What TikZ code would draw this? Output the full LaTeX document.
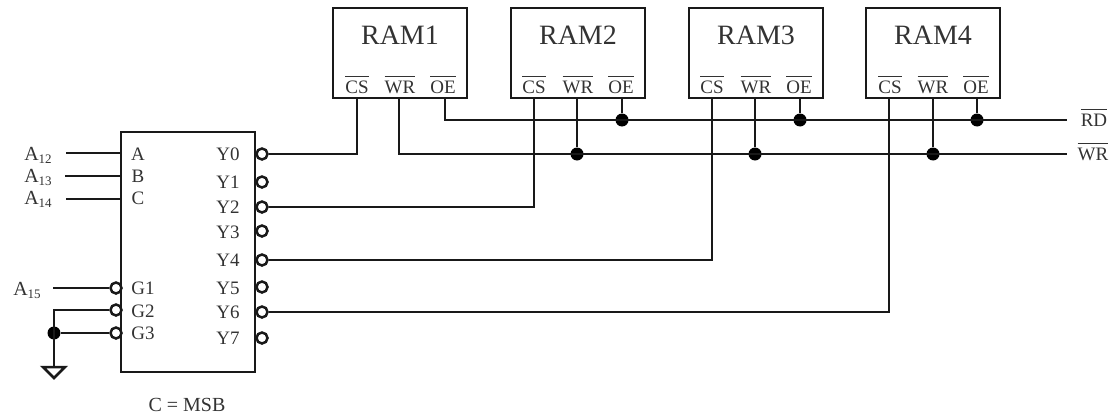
\documentclass[tikz,border=0pt]{standalone}
\usepackage{fontspec}
\setmainfont{Liberation Serif}
\newcommand{\addr}[1]{A\raisebox{-3pt}{\fontsize{13}{13}\selectfont #1}}
\newcommand{\barred}[1]{$\overline{\mbox{\rule{0pt}{15.5pt}#1}}$}
\tikzset{
	wire/.style={line width=2.5pt, color=black!90},
	box/.style={draw, line width=2.5pt, color=black!90, inner sep=0pt},
	bubble/.style={circle, draw, line width=2.5pt, color=black!90, fill=white, inner sep=0pt, minimum size=11pt},
	dot/.style={circle, fill=black, inner sep=0pt, minimum size=13pt},
	lbl/.style={text=black!80, inner sep=0pt, font=\fontsize{19}{19}\selectfont},
	addrlbl/.style={lbl, font=\fontsize{20}{20}\selectfont},
	pinlbl/.style={lbl, anchor=base},
	ramlbl/.style={lbl, font=\fontsize{28}{28}\selectfont}
}
\begin{document}
\begin{tikzpicture}[x=1pt, y=-1pt]
	\useasboundingbox (0,0) rectangle (1112,415);

	% decoder
	\node[box, minimum width=134pt, minimum height=240pt] (chip) at (188,252) {};
	\node[lbl] (la) at (138,154) {A};
	\node[lbl] (lb) at (138,176) {B};
	\node[lbl] (lc) at (138,198) {C};
	\node[lbl] (lg1) at (143,288) {G1};
	\node[lbl] (lg2) at (143,311) {G2};
	\node[lbl] (lg3) at (143,333) {G3};
	\node[lbl] (ly0) at (228,154) {Y0};
	\node[lbl] (ly1) at (228,182) {Y1};
	\node[lbl] (ly2) at (228,207) {Y2};
	\node[lbl] (ly3) at (228,232) {Y3};
	\node[lbl] (ly4) at (228,260) {Y4};
	\node[lbl] (ly5) at (228,288) {Y5};
	\node[lbl] (ly6) at (228,312) {Y6};
	\node[lbl] (ly7) at (228,338) {Y7};
	\node[addrlbl] (msb) at (187,405) {C = MSB};

	% decoder outputs
	\node[bubble] (y0) at (262,154) {};
	\node[bubble] (y1) at (262,182) {};
	\node[bubble] (y2) at (262,207) {};
	\node[bubble] (y3) at (262,231) {};
	\node[bubble] (y4) at (262,260) {};
	\node[bubble] (y5) at (262,287) {};
	\node[bubble] (y6) at (262,312) {};
	\node[bubble] (y7) at (262,338) {};

	% enable inputs
	\node[bubble] (g1) at (116,288) {};
	\node[bubble] (g2) at (116,310) {};
	\node[bubble] (g3) at (116,333) {};

	% address lines
	\node[addrlbl] (a12) at (38,155) {\addr{12}};
	\node[addrlbl] (a13) at (38,177) {\addr{13}};
	\node[addrlbl] (a14) at (38,199) {\addr{14}};
	\node[addrlbl] (a15) at (27,290) {\addr{15}};
	\coordinate (a12s) at (66,153);
	\coordinate (a13s) at (65,176);
	\coordinate (a14s) at (66,199);
	\coordinate (a15s) at (53,288);
	\coordinate (pa) at (chip.west |- a12s);
	\coordinate (pb) at (chip.west |- a13s);
	\coordinate (pc) at (chip.west |- a14s);
	\draw[wire] (a12s) -- (pa);
	\draw[wire] (a13s) -- (pb);
	\draw[wire] (a14s) -- (pc);
	\draw[wire] (a15s) -- (g1);

	% ground
	\node[dot] (gj) at (54,333) {};
	\coordinate (gt) at (54,310);
	\coordinate (gnd) at (54,367);
	\draw[wire] (g2) -- (gt) -- (gnd);
	\draw[wire] (gj) -- (g3);
	\draw[wire, line join=miter] (gnd) ++(-11,0) -- ++(22,0) -- ++(-11,11) -- cycle;

	% RAM chips
	\node[box, minimum width=134pt, minimum height=90pt] (ram1) at (400,53) {};
	\node[box, minimum width=134pt, minimum height=90pt] (ram2) at (578,53) {};
	\node[box, minimum width=134pt, minimum height=90pt] (ram3) at (756,53) {};
	\node[box, minimum width=134pt, minimum height=90pt] (ram4) at (933,53) {};
	\node[ramlbl] (n1) at (400,35) {RAM1};
	\node[ramlbl] (n2) at (578,35) {RAM2};
	\node[ramlbl] (n3) at (756,35) {RAM3};
	\node[ramlbl] (n4) at (933,35) {RAM4};

	% RAM pin labels
	\node[pinlbl] (cs1l) at (357,93) {\barred{CS}};
	\node[pinlbl] (wr1l) at (400,93) {\barred{WR}};
	\node[pinlbl] (oe1l) at (443,93) {\barred{OE}};
	\node[pinlbl] (cs2l) at (534,93) {\barred{CS}};
	\node[pinlbl] (wr2l) at (578,93) {\barred{WR}};
	\node[pinlbl] (oe2l) at (621,93) {\barred{OE}};
	\node[pinlbl] (cs3l) at (712,93) {\barred{CS}};
	\node[pinlbl] (wr3l) at (756,93) {\barred{WR}};
	\node[pinlbl] (oe3l) at (799,93) {\barred{OE}};
	\node[pinlbl] (cs4l) at (890,93) {\barred{CS}};
	\node[pinlbl] (wr4l) at (933,93) {\barred{WR}};
	\node[pinlbl] (oe4l) at (976,93) {\barred{OE}};

	% RAM pins
	\coordinate (cs1) at (357,98);
	\coordinate (wr1) at (399,98);
	\coordinate (oe1) at (445,98);
	\coordinate (cs2) at (534,98);
	\coordinate (wr2) at (577,98);
	\coordinate (oe2) at (622,98);
	\coordinate (cs3) at (712,98);
	\coordinate (wr3) at (755,98);
	\coordinate (oe3) at (800,98);
	\coordinate (cs4) at (889,98);
	\coordinate (wr4) at (933,98);
	\coordinate (oe4) at (977,98);

	% chip selects
	\draw[wire] (y0) -| (cs1);
	\draw[wire] (y2) -| (cs2);
	\draw[wire] (y4) -| (cs3);
	\draw[wire] (y6) -| (cs4);

	% RD line
	\coordinate (rdend) at (1067,120);
	\node[pinlbl] (rd) at (1094,126) {\barred{RD}};
	\node[dot] (oj2) at (622,120) {};
	\node[dot] (oj3) at (800,120) {};
	\node[dot] (oj4) at (977,120) {};
	\draw[wire] (oe1) |- (rdend);
	\draw[wire] (oe2) -- (oj2);
	\draw[wire] (oe3) -- (oj3);
	\draw[wire] (oe4) -- (oj4);

	% WR line
	\coordinate (wrend) at (1067,154);
	\node[pinlbl] (wr) at (1093,160) {\barred{WR}};
	\node[dot] (wj2) at (577,154) {};
	\node[dot] (wj3) at (755,154) {};
	\node[dot] (wj4) at (933,154) {};
	\draw[wire] (wr1) |- (wrend);
	\draw[wire] (wr2) -- (wj2);
	\draw[wire] (wr3) -- (wj3);
	\draw[wire] (wr4) -- (wj4);
\end{tikzpicture}
\end{document}
